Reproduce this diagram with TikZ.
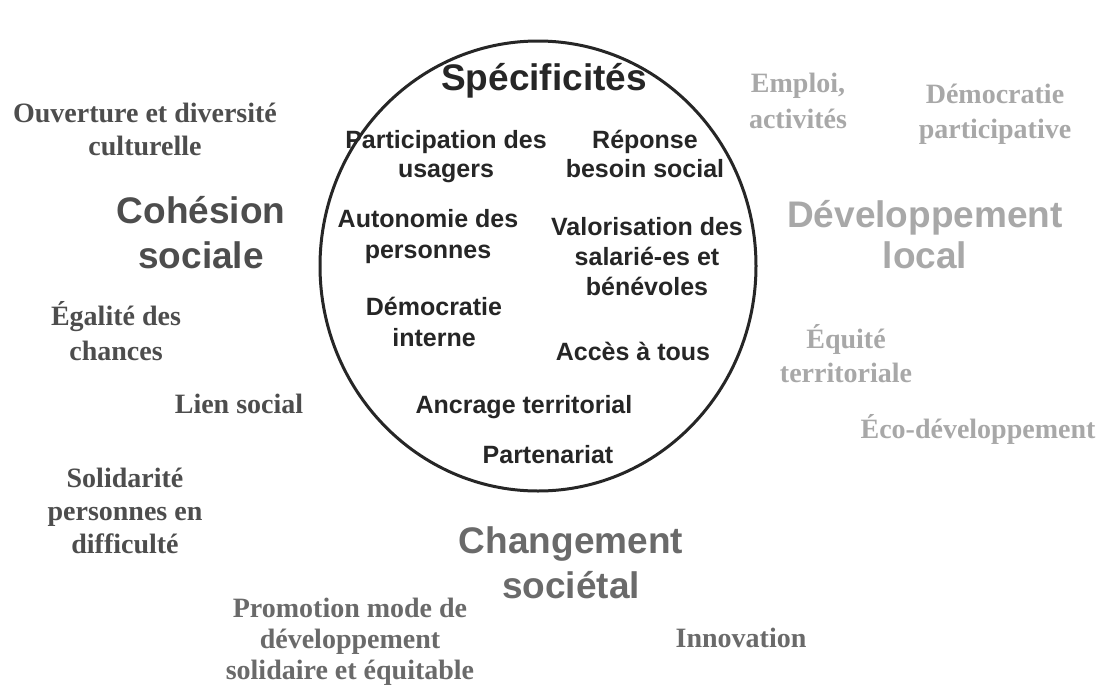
\documentclass[tikz,border=0pt]{standalone}
\usepackage{fontspec}
\setmainfont{Liberation Serif}
\setsansfont{Liberation Sans}
\usetikzlibrary{shapes.geometric}
\definecolor{ink}{HTML}{262626}
\definecolor{cohes}{HTML}{4D4D4D}
\definecolor{devel}{HTML}{A8A8A8}
\definecolor{chang}{HTML}{6A6A6A}
\newcommand\ml[3]{\fontsize{#1}{#2}\selectfont\begin{tabular}[t]{@{}c@{}}#3\end{tabular}}
\begin{document}
\begin{tikzpicture}[x=1pt,y=-1pt,
  lbl/.style={anchor=base, inner sep=0pt, outer sep=0pt},
  sansb/.style={lbl, font=\sffamily\bfseries},
  serifb/.style={lbl, font=\rmfamily\bfseries},
  item/.style={sansb, text=ink},
  cohesion/.style={serifb, text=cohes},
  developpement/.style={serifb, text=devel},
  changement/.style={serifb, text=chang},
  oval/.style={draw=ink, line width=3pt, ellipse, inner sep=0pt, minimum width=436pt, minimum height=450pt}]
\useasboundingbox (0,0) rectangle (1103,691);
\fill[white] (0,0) rectangle (1103,691);

\node[oval] (oval) at (538,266) {};

% Spécificités
\node[item] (spec) at (544,90) {\ml{37}{45}{Spécificités}};
\node[item] (part) at (446,148) {\ml{25}{29}{Participation des\\usagers}};
\node[item] (rep) at (645,148) {\ml{25}{29}{Réponse\\besoin social}};
\node[item] (auto) at (428,227) {\ml{25}{31}{Autonomie des\\personnes}};
\node[item] (valo) at (647,235) {\ml{25}{30}{Valorisation des\\salarié-es et\\bénévoles}};
\node[item] (demi) at (434,315) {\ml{25}{31}{Démocratie\\interne}};
\node[item] (acces) at (633,360) {\ml{25}{30}{Accès à tous}};
\node[item] (ancr) at (524,413) {\ml{25}{30}{Ancrage territorial}};
\node[item] (parten) at (548,463) {\ml{25}{30}{Partenariat}};

% Cohésion sociale
\node[cohesion] (ouv) at (145,122) {\ml{28}{33}{Ouverture et diversité\\culturelle}};
\node[sansb, text=cohes] (coh) at (201,223) {\ml{37}{45}{Cohésion\\sociale}};
\node[cohesion] (ega) at (116,325) {\ml{28}{35}{Égalité des\\chances}};
\node[cohesion] (lien) at (239,413) {\ml{28}{33}{Lien social}};
\node[cohesion] (soli) at (125,487) {\ml{28}{33}{Solidarité\\personnes en\\difficulté}};

% Développement local
\node[developpement] (empl) at (798,92) {\ml{28}{36}{Emploi,\\activités}};
\node[developpement] (demp) at (995,103) {\ml{28}{35}{Démocratie\\participative}};
\node[sansb, text=devel] (dev) at (925,227) {\ml{37}{41}{Développement\\local}};
\node[developpement] (equi) at (846,348) {\ml{28}{34}{Équité\\territoriale}};
\node[developpement] (eco) at (978,438) {\ml{28}{33}{Éco-développement}};

% Changement sociétal
\node[sansb, text=chang] (chg) at (571,553) {\ml{37}{45}{Changement\\sociétal}};
\node[changement] (promo) at (350,617) {\ml{28}{31}{Promotion mode de\\développement\\solidaire et équitable}};
\node[changement] (innov) at (741,647) {\ml{28}{33}{Innovation}};
\end{tikzpicture}
\end{document}
